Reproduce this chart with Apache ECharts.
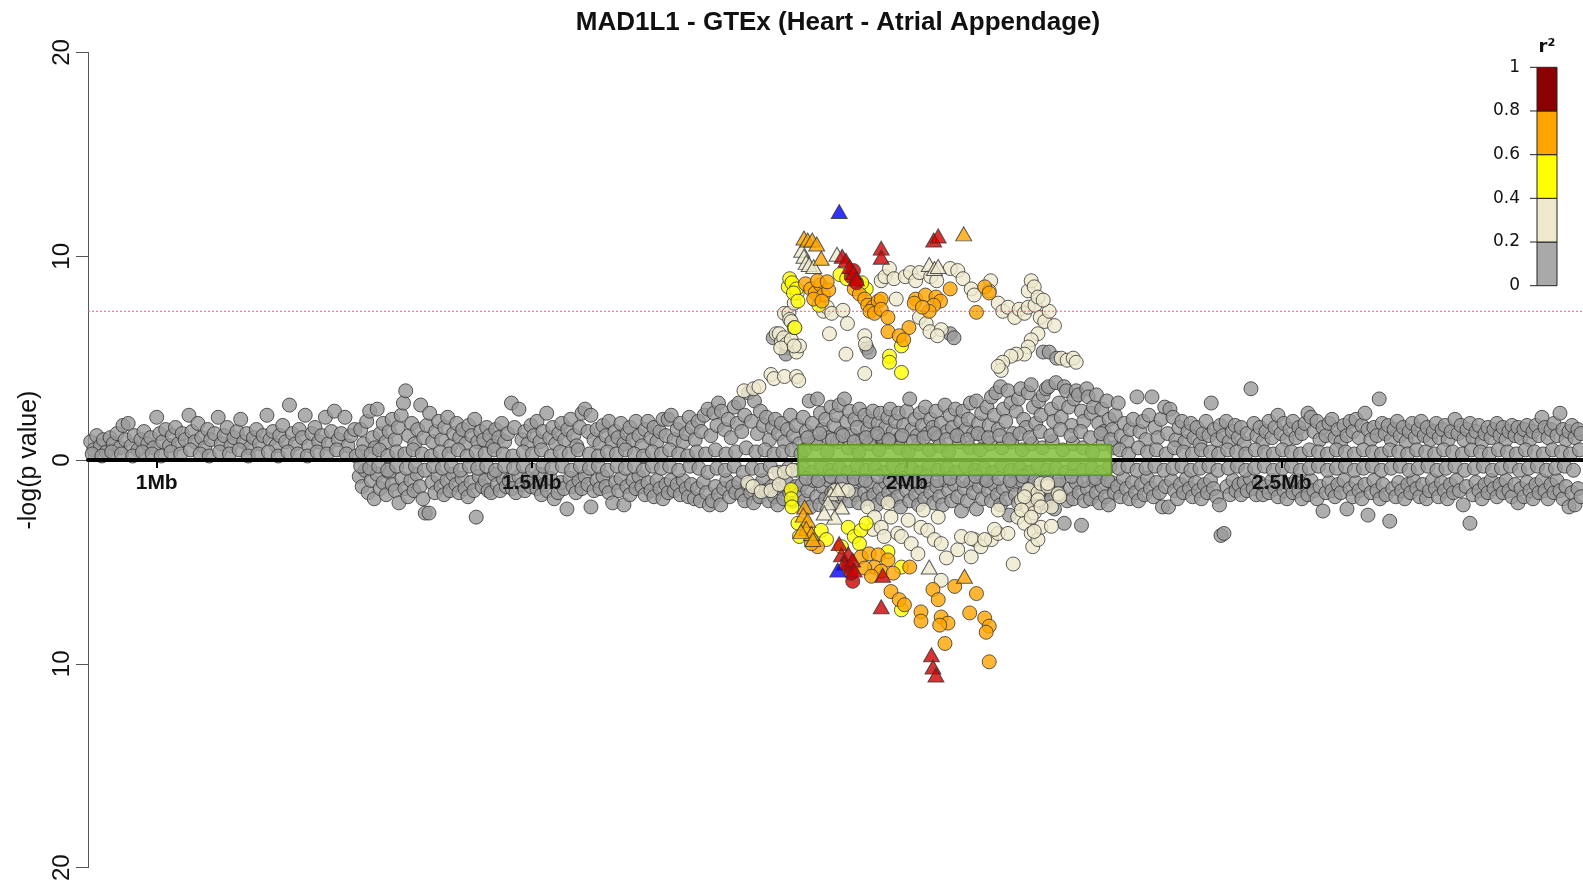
<!DOCTYPE html>
<html>
<head>
<meta charset="utf-8">
<title>MAD1L1 - GTEx (Heart - Atrial Appendage)</title>
<script src="https://cdn.jsdelivr.net/npm/echarts@6/dist/echarts.min.js"></script>
<style>
  html, body { margin: 0; padding: 0; background: #fff; }
  #chart { width: 1583px; height: 884px; }
</style>
</head>
<body>
<div id="chart"></div>
<script>
// Positions are in kb on the chromosome; values are -log10(p).
// Lower-panel values are stored as magnitudes and drawn below zero.

const chartTitle = 'MAD1L1 - GTEx (Heart - Atrial Appendage)';
const xTickKb = [1000, 1500, 2000, 2500];
const xRangeKb = [908.4, 2901.7];
const yRange = [-20, 20];
const sigThreshold = 7.3;
const geneSpans = [[1855, 2273]];
const r2Breaks = [0, 0.2, 0.4, 0.6, 0.8, 1];
const r2Colors = ['#A9A9A9', '#EEE8CD', '#FFFF00', '#FFA500', '#8B0000'];

// ---------- upper panel, r2 < 0.2 ----------
const upperGrey1 = [[912,0.9],[916,0.5],[920,1.2],[925,0.7],[929,1.0],[933,0.4],[938,1.1],[942,0.8],[947,1.3],[951,0.6],[955,1.7],[958,1.0],[962,1.8],[966,0.7],[970,1.2],[975,0.5],[979,1.0],[983,1.4],[988,0.8],[992,1.1],[996,0.6],[1000,2.1],[1004,1.3],[1008,0.9],[1012,1.5],[1017,0.7],[1021,1.2],[1025,1.6],[1029,0.8],[1034,1.3],[1038,1.0],[1043,2.2],[1047,1.4],[1051,0.9],[1055,1.8],[1060,1.1],[1064,0.6],[1068,1.5],[1072,1.0],[1077,1.3],[1082,2.1],[1086,0.8],[1090,1.2],[1094,1.6],[1099,0.7],[1103,1.1],[1107,1.4],[1112,2.0],[1116,0.9],[1120,1.3],[1124,0.6],[1129,1.1],[1133,1.5],[1137,0.8],[1142,1.2],[1147,2.2],[1151,1.0],[1155,1.4],[1159,0.7],[1164,1.2],[1168,1.7],[1172,0.9],[1177,2.7],[1181,1.3],[1185,0.8],[1190,1.5],[1194,1.1],[1198,2.2],[1203,0.7],[1207,1.3],[1211,1.6],[1216,0.9],[1220,1.2],[1225,2.1],[1229,0.8],[1233,1.4],[1237,2.4],[1242,1.0],[1246,1.3],[1251,2.1],[1255,0.7],[1259,1.2],[1264,1.5],
  [914,0.3],[927,0.2],[940,0.4],[953,0.3],[968,0.2],[981,0.4],[994,0.3],[1006,0.2],[1019,0.4],[1032,0.3],[1045,0.5],[1058,0.3],[1070,0.2],[1084,0.4],[1097,0.3],[1110,0.5],[1122,0.2],[1135,0.3],[1149,0.4],[1162,0.2],[1175,0.4],[1188,0.3],[1201,0.2],[1214,0.4],[1227,0.3],[1240,0.5],[1253,0.3],[1266,0.2]];

const upperGrey2 = [[1272,1.5],[1276,0.8],[1280,1.9],[1284,2.4],[1288,1.1],[1291,0.6],[1294,2.5],[1298,1.3],[1302,1.8],[1306,0.9],[1310,1.4],[1314,2.0],[1318,1.0],[1322,1.6],[1326,2.2],[1329,2.8],[1332,3.4],[1336,1.2],[1340,1.8],[1344,0.8],[1348,1.5],[1352,2.7],[1356,1.1],[1360,1.7],[1364,2.3],[1368,0.9],[1372,1.4],[1376,1.9],[1380,1.0],[1384,1.6],[1388,2.1],[1392,0.7],[1396,1.3],[1400,1.8],[1404,1.1],[1408,1.5],[1412,0.8],[1416,1.7],[1420,1.2],[1424,2.0],[1428,0.9],[1432,1.4],[1436,1.0],[1440,1.6],[1444,1.2],[1448,0.7],[1452,1.5],[1456,1.1],[1460,1.8],[1464,0.9],[1468,1.3],[1473,2.8],[1477,1.6],[1483,2.5],[1487,1.0],[1491,1.4],[1495,0.8],[1499,1.7],[1503,1.2],[1507,1.9],[1511,0.9],[1515,1.4],[1520,2.3],[1524,1.1],[1528,1.6],[1532,0.8],[1536,1.3],[1540,1.8],[1544,1.0],[1548,1.5],[1552,2.0],[1556,1.2],[1560,0.7],[1564,1.6],[1567,2.3],[1571,2.5],[1575,1.4],[1579,2.2],[1583,1.0],[1587,1.5],[1591,0.8],[1595,1.7],[1599,1.2],[1603,1.9],[1607,0.9],[1611,1.4],[1615,1.1],[1619,1.8],[1623,0.8],[1627,1.3],[1631,1.6],[1635,1.0],[1639,1.9],[1643,1.2],[1647,0.7],[1651,1.5],[1655,1.9],[1659,1.1],[1663,1.6],[1667,0.9],[1671,1.4],[1675,2.0],[1679,1.2],[1682,2.0],[1686,2.2],[1690,1.0],[1694,1.5],[1698,1.8],[1702,0.9],[1706,1.3],[1710,2.1],[1714,1.6],[1718,1.0],[1722,1.9],[1726,1.4],[1730,2.2],[1735,2.5],[1739,1.2],[1743,2.3],[1747,1.7],[1749,2.8],[1753,2.4],[1757,1.5],[1762,2.0],[1766,1.1],[1770,2.6],[1774,1.8],[1776,2.8],[1780,1.4],[1784,2.2],[1789,3.3],[1793,1.9],[1797,2.9],[1801,1.3],[1805,2.4],[1809,1.7],[1813,2.1],[1817,1.0],[1821,1.6],[1825,2.0],[1829,1.3],[1833,1.8],[1837,0.9],[1841,1.5],[1845,2.2],[1849,1.2],[1853,1.7],[1857,0.8],
  [1274,0.4],[1286,0.3],[1297,0.5],[1308,0.2],[1320,0.4],[1331,0.3],[1342,0.5],[1354,0.3],[1366,0.2],[1378,0.4],[1390,0.3],[1402,0.5],[1414,0.2],[1426,0.4],[1438,0.3],[1450,0.5],[1462,0.3],[1475,0.2],[1489,0.4],[1501,0.3],[1513,0.5],[1526,0.2],[1538,0.4],[1550,0.3],[1562,0.5],[1577,0.3],[1589,0.2],[1601,0.4],[1613,0.3],[1625,0.5],[1637,0.3],[1649,0.2],[1661,0.4],[1673,0.3],[1684,0.5],[1696,0.3],[1708,0.2],[1720,0.4],[1732,0.3],[1745,0.5],[1759,0.3],[1772,0.4],[1786,0.6],[1799,0.4],[1811,0.5],[1823,0.3],[1835,0.4],[1847,0.5],[1859,0.3]];

const upperGrey3 = [[1862,2.1],[1866,1.4],[1870,2.9],[1874,1.8],[1877,0.9],[1881,3.0],[1885,2.3],[1888,1.5],[1892,2.0],[1896,1.1],[1899,2.6],[1903,1.7],[1906,2.2],[1910,2.7],[1913,1.3],[1917,3.0],[1920,1.9],[1924,2.4],[1927,1.2],[1931,2.0],[1934,1.6],[1937,2.5],[1941,1.0],[1944,2.2],[1948,1.5],[1951,1.9],[1955,2.4],[1958,1.2],[1962,1.8],[1965,2.3],[1969,1.0],[1972,1.6],[1975,2.1],[1978,2.5],[1982,1.4],[1985,1.9],[1989,2.3],[1992,1.1],[1996,1.7],[2000,2.4],[2004,3.0],[2007,1.5],[2011,2.0],[2014,1.2],[2018,2.3],[2021,1.7],[2025,2.6],[2028,1.3],[2032,2.0],[2035,1.6],[2039,2.4],[2042,1.1],[2046,1.8],[2051,2.7],[2054,1.4],[2058,2.2],[2061,1.6],[2065,2.5],[2068,1.2],[2072,1.9],[2075,2.4],[2079,1.5],[2082,2.0],[2085,2.8],[2089,1.3],[2093,2.9],[2096,1.8],[2100,2.3],[2103,1.1],[2107,2.6],[2110,1.7],[2113,3.1],[2117,2.2],[2119,3.3],[2122,1.5],[2125,3.6],[2129,2.5],[2132,1.9],[2135,3.4],[2139,2.8],[2142,1.3],[2146,2.4],[2149,3.0],[2152,3.5],[2156,2.0],[2159,1.6],[2162,3.3],[2166,3.7],[2169,2.6],[2172,1.8],[2176,2.9],[2179,2.2],[2182,3.2],[2186,3.5],[2189,3.6],[2193,2.5],[2196,1.9],[2199,3.8],[2203,2.8],[2206,2.1],[2210,3.6],[2213,3.4],[2216,2.6],[2220,1.7],[2223,3.0],[2226,3.4],[2229,3.2],[2233,2.4],[2236,1.9],[2240,3.5],[2242,3.1],[2246,2.3],[2249,2.6],[2253,3.2],[2256,1.8],[2260,2.5],[2263,1.4],[2267,2.9],[2270,2.0],[2274,1.5],[2278,2.2],
  [1864,0.5],[1879,0.8],[1894,0.4],[1908,0.9],[1922,0.6],[1936,0.4],[1950,0.8],[1963,0.5],[1977,0.9],[1990,0.6],[2002,0.4],[2016,0.8],[2030,0.5],[2044,0.7],[2056,0.4],[2070,0.9],[2084,0.6],[2098,0.5],[2111,0.8],[2127,0.6],[2140,0.9],[2154,0.5],[2167,0.8],[2181,0.6],[2194,0.9],[2208,0.5],[2222,0.8],[2235,0.6],[2248,0.4],[2262,0.8],[2276,0.6],
  [1868,1.1],[1884,1.3],[1901,1.0],[1915,1.2],[1930,0.9],[1946,1.1],[1961,1.3],[1976,1.0],[1994,1.2],[2009,0.9],[2023,1.1],[2037,1.3],[2053,1.0],[2067,1.2],[2081,1.0],[2095,1.3],[2109,1.1],[2124,1.2],[2137,1.0],[2151,1.3],[2164,1.1],[2178,1.4],[2192,1.2],[2205,1.5],[2219,1.2],[2232,1.4],[2245,1.1],[2259,1.3],[2272,1.0],
  [1822,6.0],[1841,5.5],[1839,5.2],[1947,5.5],[1950,5.3],[2058,6.2],[2063,6.0],[2182,5.3],[2190,5.3],[2200,5.0]];

const upperGrey4 = [[2282,2.8],[2286,1.2],[2290,1.8],[2294,0.9],[2298,1.5],[2302,2.0],[2307,3.1],[2311,1.4],[2315,1.9],[2319,1.0],[2323,2.2],[2327,3.1],[2331,1.6],[2335,1.1],[2339,2.0],[2344,2.6],[2348,1.3],[2351,2.5],[2355,2.1],[2359,1.0],[2363,1.6],[2367,1.9],[2371,0.9],[2375,1.4],[2379,1.8],[2383,1.1],[2387,1.6],[2391,0.8],[2395,1.3],[2399,1.9],[2403,1.2],[2406,2.8],[2410,1.5],[2414,1.0],[2418,1.7],[2422,1.2],[2426,1.9],[2430,0.9],[2434,1.4],[2438,1.7],[2442,1.1],[2446,1.6],[2450,0.8],[2454,1.3],[2459,3.5],[2463,1.8],[2467,1.2],[2471,1.6],[2475,0.9],[2479,1.4],[2483,1.9],[2487,1.1],[2491,1.6],[2495,2.2],[2499,1.3],[2503,1.8],[2507,1.0],[2511,1.5],[2515,1.9],[2519,1.1],[2523,1.6],[2527,1.3],[2531,1.8],[2535,2.3],[2539,2.1],[2543,1.4],[2547,1.9],[2551,1.0],[2555,1.6],[2559,1.2],[2563,1.8],[2567,2.0],[2571,1.1],[2575,1.5],[2579,0.9],[2583,1.7],[2587,1.2],[2591,1.9],[2595,1.4],[2599,2.0],[2603,1.1],[2607,1.7],[2611,2.3],[2615,1.5],[2619,1.0],[2623,1.6],[2627,1.2],[2630,3.0],[2634,1.8],[2638,1.3],[2642,1.7],[2646,1.0],[2650,1.5],[2654,1.9],[2658,1.2],[2662,1.6],[2666,0.9],[2670,1.4],[2674,1.8],[2678,1.1],[2682,1.5],[2686,1.9],[2690,1.2],[2694,1.6],[2698,1.0],[2702,1.4],[2706,1.8],[2710,1.1],[2714,1.5],[2718,1.7],[2722,1.0],[2726,1.4],[2731,2.0],[2735,1.3],[2739,1.7],[2743,1.0],[2747,1.5],[2751,1.8],[2755,1.1],[2759,1.4],[2763,1.7],[2767,0.9],[2771,1.3],[2775,1.6],[2779,1.1],[2783,1.5],[2787,1.8],[2791,1.2],[2795,1.6],[2799,1.0],[2803,1.4],[2807,1.7],[2811,1.2],[2815,1.6],[2819,1.1],[2823,1.5],[2827,1.7],[2831,1.0],[2835,1.4],[2839,1.7],[2843,1.2],[2847,2.1],[2851,1.6],[2855,1.1],[2859,1.5],[2863,1.8],[2867,1.2],[2871,2.3],[2875,1.5],[2879,1.0],[2883,1.4],[2887,1.7],[2891,1.1],[2895,1.5],[2899,1.3],
  [2284,0.5],[2296,0.3],[2309,0.6],[2321,0.4],[2333,0.5],[2346,0.3],[2357,0.6],[2369,0.4],[2381,0.3],[2393,0.5],[2405,0.4],[2416,0.3],[2428,0.5],[2440,0.4],[2452,0.3],[2465,0.5],[2477,0.4],[2489,0.3],[2501,0.5],[2513,0.4],[2525,0.3],[2537,0.5],[2549,0.4],[2561,0.3],[2573,0.5],[2585,0.4],[2597,0.3],[2609,0.5],[2621,0.4],[2633,0.3],[2644,0.5],[2656,0.4],[2668,0.3],[2680,0.5],[2692,0.4],[2704,0.3],[2716,0.5],[2728,0.4],[2741,0.3],[2753,0.5],[2765,0.4],[2777,0.3],[2789,0.5],[2801,0.4],[2813,0.3],[2825,0.5],[2837,0.4],[2849,0.3],[2861,0.5],[2873,0.4],[2885,0.3],[2897,0.5]];

// ---------- upper panel, coloured by r2 ----------
const upperBeige = [[1783,3.4],[1796,3.5],[1803,3.6],[1819,4.2],[1823,4.0],[1837,4.1],[1853,4.1],[1856,3.9],[1826,6.2],[1830,6.2],[1833,5.8],[1836,6.0],[1837,7.2],[1840,5.7],[1843,7.2],[1844,6.9],[1846,5.9],[1846,6.8],[1850,6.5],[1850,7.7],[1853,5.3],[1854,8.2],[1857,5.6],[1832,5.5],[1850,5.6],[1889,7.3],[1894,7.5],[1897,6.2],[1900,7.2],[1915,7.35],[1919,5.2],[1921,6.7],[1944,6.1],[1945,5.7],[1944,4.25],[1966,8.8],[1971,9.0],[1977,9.4],[1983,8.9],[1986,7.9],[1998,9.0],[2005,9.2],[2012,8.8],[2017,9.2],[2032,9.0],[2040,8.8],[2058,9.4],[2017,7.0],[2026,6.7],[2031,6.3],[2046,6.4],[2041,6.1],[2068,9.3],[2075,8.9],[2086,8.4],[2090,8.1],[2112,8.8],[2110,8.3],[2122,7.7],[2128,7.3],[2135,7.5],[2144,7.0],[2150,7.4],[2157,7.2],[2162,7.5],[2171,7.6],[2178,7.0],[2184,6.8],[2190,7.3],[2197,6.6],[2162,8.3],[2166,8.8],[2170,8.5],[2175,8.0],[2182,7.85],[2175,6.2],[2166,5.9],[2162,5.55],[2157,5.2],[2146,5.2],[2139,5.1],[2128,4.8],[2126,4.4],[2122,4.6],[2206,5.0],[2214,4.9],[2222,5.0],[2226,4.8]];
const upperYellow = [[1842,8.5],[1844,8.9],[1847,8.7],[1853,8.4],[1849,8.2],[1855,7.8],[1851,6.5],[1883,7.6],[1911,9.1],[1920,8.9],[1946,8.4],[1940,8.7],[1977,5.1],[1977,4.8],[1993,4.3],[1993,5.6]];
const upperOrange = [[1865,8.65],[1872,8.4],[1878,8.2],[1885,8.6],[1889,8.1],[1896,8.35],[1876,7.9],[1887,7.8],[1881,8.8],[1894,8.75],[1930,8.4],[1937,8.15],[1944,7.9],[1948,7.6],[1955,7.5],[1962,7.8],[1966,7.9],[1951,7.3],[1957,7.2],[1966,7.4],[1975,7.0],[2003,6.5],[1975,6.3],[1990,6.1],[1996,5.9],[2012,7.9],[2025,8.1],[2039,8.0],[2045,7.8],[2036,7.6],[2058,8.4],[2010,7.7],[2030,7.3],[2021,7.5],[2093,7.25],[2104,8.5],[2110,8.2]];
const upperRed = [[1926,9.0],[1933,8.7],[1929,9.3]];
const upperBeigeTri = [[1860,10.3],[1863,10.0],[1866,9.7],[1870,9.6],[1876,9.5],[1907,10.1],[2030,9.6],[2037,9.4],[2042,9.5]];
const upperOrangeTri = [[1863,10.9],[1868,10.8],[1874,10.8],[1880,10.6],[1886,9.9],[2076,11.1]];
const upperRedTri = [[1914,10.0],[1919,9.8],[1924,9.5],[1929,9.2],[1933,8.9],[1966,10.4],[1966,9.95],[2036,10.8],[2042,11.0]];
const upperLead = [[1910,12.2]];

// ---------- lower panel, r2 < 0.2 ----------
const lowerGrey2 = [[1270,0.8],[1274,1.3],[1278,0.5],[1282,1.6],[1286,1.0],[1290,1.9],[1294,0.7],[1298,1.4],[1302,1.1],[1306,1.7],[1310,0.6],[1314,1.2],[1318,1.5],[1323,2.1],[1327,0.9],[1331,1.4],[1335,1.8],[1339,1.0],[1343,1.5],[1347,0.7],[1351,1.3],[1355,1.9],[1358,2.6],[1363,2.6],[1367,1.1],[1371,1.6],[1375,0.8],[1379,1.3],[1383,1.7],[1387,1.0],[1391,1.5],[1395,0.7],[1399,1.2],[1403,1.6],[1407,0.9],[1411,1.4],[1415,1.8],[1419,1.1],[1423,1.5],[1426,2.8],[1430,0.8],[1434,1.3],[1438,1.0],[1442,1.5],[1446,1.6],[1450,0.7],[1454,1.2],[1458,1.5],[1462,0.9],[1466,1.3],[1470,1.0],[1474,1.4],[1479,1.6],[1483,0.8],[1487,1.2],[1491,1.5],[1495,0.9],[1499,1.3],[1503,1.0],[1507,1.4],[1511,0.7],[1513,1.7],[1517,1.2],[1521,1.5],[1525,0.9],[1530,1.9],[1535,1.6],[1539,1.1],[1543,1.4],[1547,2.4],[1551,0.9],[1555,1.3],[1559,1.6],[1563,1.0],[1567,1.4],[1571,0.8],[1575,1.2],[1579,2.3],[1583,1.5],[1587,1.0],[1591,1.4],[1595,0.8],[1599,1.3],[1603,1.6],[1608,2.1],[1612,1.1],[1616,1.5],[1619,0.9],[1623,2.2],[1627,1.3],[1631,1.7],[1635,1.0],[1639,1.4],[1643,0.8],[1647,1.3],[1651,1.7],[1655,1.1],[1659,1.5],[1663,1.8],[1667,1.0],[1671,1.4],[1675,1.9],[1679,1.2],[1682,1.6],[1686,1.0],[1690,1.5],[1694,1.2],[1698,1.7],[1702,1.0],[1706,1.4],[1709,1.8],[1713,1.2],[1717,1.9],[1721,1.4],[1725,2.0],[1729,1.1],[1733,1.6],[1737,2.2],[1741,2.0],[1745,1.3],[1749,1.7],[1752,2.2],[1756,1.4],[1760,1.0],[1764,1.8],[1768,1.3],[1772,1.6],[1776,1.1],[1780,1.7],[1784,2.0],[1788,1.2],[1792,1.6],[1796,2.1],[1800,1.3],[1804,1.8],[1808,1.0],[1812,1.5],[1816,2.0],[1820,1.3],[1824,1.8],[1828,2.2],[1832,1.4],[1836,1.9],[1840,1.1],[1844,1.6],[1848,2.0],[1852,1.3],[1856,1.7],
  [1272,0.3],[1284,0.4],[1296,0.3],[1308,0.5],[1320,0.3],[1333,0.4],[1345,0.3],[1357,0.5],[1369,0.3],[1381,0.4],[1393,0.3],[1405,0.5],[1417,0.3],[1428,0.4],[1440,0.3],[1452,0.5],[1464,0.3],[1476,0.4],[1489,0.3],[1501,0.5],[1515,0.3],[1527,0.4],[1541,0.3],[1553,0.5],[1565,0.3],[1577,0.4],[1589,0.3],[1601,0.5],[1614,0.3],[1625,0.4],[1637,0.3],[1649,0.5],[1661,0.3],[1673,0.4],[1684,0.3],[1696,0.5],[1711,0.3],[1723,0.4],[1735,0.6],[1747,0.4],[1758,0.5],[1770,0.3],[1782,0.6],[1794,0.4],[1806,0.5],[1818,0.3],[1830,0.6],[1842,0.4],[1854,0.5]];

const lowerGrey3 = [[1860,1.2],[1864,2.0],[1868,1.5],[1872,2.3],[1876,1.0],[1880,1.8],[1884,2.2],[1888,1.3],[1892,1.9],[1896,1.0],[1900,1.6],[1904,2.1],[1908,1.3],[1912,1.8],[1916,1.0],[1920,1.5],[1924,2.0],[1928,1.2],[1932,1.7],[1936,2.1],[1940,1.0],[1944,1.6],[1948,1.9],[1952,1.2],[1956,1.7],[1960,2.2],[1964,1.4],[1968,1.9],[1972,1.1],[1976,1.6],[1980,2.0],[1984,1.3],[1988,1.8],[1992,2.3],[1996,1.0],[2000,1.5],[2004,2.0],[2008,1.2],[2012,1.7],[2016,2.2],[2020,1.4],[2024,1.9],[2028,1.1],[2032,1.6],[2036,2.1],[2040,1.3],[2044,1.8],[2048,2.2],[2052,1.0],[2056,1.5],[2060,2.0],[2064,1.2],[2068,1.8],[2073,2.5],[2077,1.4],[2081,2.0],[2085,1.1],[2089,1.6],[2093,2.4],[2097,1.3],[2101,1.9],[2105,1.0],[2109,1.5],[2113,2.0],[2117,1.2],[2121,1.7],[2125,2.2],[2129,1.4],[2133,1.9],[2137,2.7],[2141,1.2],[2145,1.7],[2149,2.1],[2153,1.0],[2157,1.6],[2161,2.0],[2165,1.3],[2169,1.8],[2173,2.3],[2177,1.1],[2181,1.7],[2185,2.1],[2189,1.4],[2193,1.9],[2197,2.4],[2201,1.2],[2205,1.7],[2210,3.1],[2214,2.0],[2218,1.4],[2222,1.9],[2226,1.1],[2230,1.6],[2233,3.2],[2237,2.0],[2241,1.4],[2245,1.9],[2249,1.0],[2253,1.6],[2257,2.1],[2261,1.3],[2265,1.8],[2269,2.2],[2273,1.1],[2277,1.6],
  [1862,0.4],[1874,0.6],[1886,0.3],[1898,0.5],[1910,0.4],[1922,0.6],[1934,0.3],[1946,0.5],[1958,0.4],[1970,0.6],[1982,0.3],[1994,0.5],[2006,0.4],[2018,0.6],[2030,0.3],[2042,0.5],[2054,0.4],[2066,0.6],[2079,0.3],[2091,0.5],[2103,0.4],[2115,0.6],[2127,0.3],[2139,0.5],[2151,0.4],[2163,0.6],[2175,0.3],[2187,0.5],[2199,0.4],[2212,0.6],[2224,0.3],[2235,0.5],[2247,0.4],[2259,0.6],[2271,0.3],
  [1866,0.9],[1882,1.0],[1899,0.8],[1914,1.0],[1930,0.9],[1945,1.0],[1962,0.8],[1978,1.0],[1995,0.9],[2011,1.0],[2026,0.8],[2041,1.0],[2058,0.9],[2075,1.0],[2092,0.8],[2107,1.0],[2123,0.9],[2138,1.0],[2155,0.8],[2171,1.0],[2186,0.9],[2203,1.0],[2220,0.8],[2236,1.0],[2252,0.9],[2268,1.0]];

const lowerGrey4 = [[2281,1.3],[2285,1.8],[2289,0.9],[2293,1.4],[2297,1.9],[2301,1.1],[2305,1.6],[2309,2.0],[2313,1.2],[2317,1.7],[2321,0.9],[2325,1.4],[2329,1.8],[2333,1.1],[2337,1.6],[2341,2.3],[2345,1.3],[2349,2.3],[2353,1.0],[2357,1.5],[2361,1.9],[2365,1.2],[2369,1.6],[2373,0.9],[2377,1.4],[2381,1.8],[2385,1.1],[2389,1.5],[2393,1.9],[2397,1.2],[2401,1.6],[2405,1.0],[2409,1.4],[2413,1.8],[2417,2.2],[2419,3.7],[2423,3.6],[2427,1.3],[2431,1.7],[2435,1.0],[2439,1.5],[2443,1.2],[2446,1.7],[2450,1.1],[2454,1.5],[2458,0.9],[2462,1.4],[2466,1.7],[2470,1.1],[2475,1.7],[2479,1.3],[2483,1.6],[2487,1.0],[2491,1.4],[2495,1.8],[2499,1.1],[2503,1.5],[2507,1.9],[2511,1.2],[2515,1.6],[2519,1.0],[2523,1.5],[2527,1.9],[2531,1.2],[2535,1.7],[2539,1.0],[2543,1.5],[2547,1.9],[2551,1.3],[2555,2.5],[2559,1.6],[2563,1.1],[2567,1.5],[2571,1.8],[2575,1.2],[2579,1.6],[2583,1.0],[2587,2.4],[2591,1.4],[2595,1.8],[2599,1.1],[2603,1.5],[2607,1.9],[2611,1.2],[2615,2.7],[2619,1.6],[2623,1.0],[2627,1.5],[2631,1.9],[2635,1.2],[2639,1.7],[2644,3.0],[2648,1.4],[2652,1.8],[2656,1.1],[2660,1.5],[2664,1.9],[2668,1.2],[2672,1.6],[2676,1.0],[2680,1.4],[2684,1.8],[2688,1.2],[2693,1.9],[2697,1.5],[2701,1.0],[2705,1.4],[2709,1.8],[2713,1.1],[2717,1.5],[2721,1.9],[2725,1.2],[2729,1.6],[2733,1.0],[2737,1.5],[2742,2.2],[2746,1.3],[2751,3.1],[2755,1.7],[2759,1.1],[2763,1.5],[2767,1.9],[2771,1.2],[2775,1.6],[2779,1.0],[2783,1.4],[2787,1.8],[2791,1.2],[2795,1.6],[2799,1.0],[2803,1.5],[2807,1.8],[2811,1.2],[2815,2.1],[2819,1.4],[2823,1.8],[2827,1.1],[2831,1.5],[2835,1.9],[2839,1.2],[2843,1.6],[2847,1.0],[2851,1.5],[2855,1.9],[2859,1.2],[2863,1.6],[2867,1.0],[2871,1.5],[2875,1.9],[2879,1.3],[2883,2.3],[2887,1.6],[2891,2.2],[2895,1.4],[2899,1.8],
  [2283,0.4],[2295,0.3],[2307,0.5],[2319,0.4],[2331,0.3],[2343,0.5],[2355,0.4],[2367,0.3],[2379,0.5],[2391,0.4],[2403,0.3],[2415,0.5],[2429,0.4],[2441,0.3],[2452,0.5],[2464,0.4],[2477,0.3],[2489,0.5],[2501,0.4],[2513,0.3],[2525,0.5],[2537,0.4],[2549,0.3],[2561,0.5],[2573,0.4],[2585,0.3],[2597,0.5],[2609,0.4],[2621,0.3],[2633,0.5],[2646,0.4],[2658,0.3],[2670,0.5],[2682,0.4],[2695,0.3],[2707,0.5],[2719,0.4],[2731,0.3],[2744,0.5],[2757,0.4],[2769,0.3],[2781,0.5],[2793,0.4],[2805,0.3],[2817,0.5],[2829,0.4],[2841,0.3],[2853,0.5],[2865,0.4],[2877,0.3],[2889,0.5]];

// ---------- lower panel, coloured by r2 ----------
const lowerBeige = [[1788,1.1],[1795,1.3],[1806,1.55],[1819,1.5],[1824,0.65],[1830,1.2],[1837,0.6],[1848,0.5],[1904,1.5],[1914,1.45],[1922,1.5],[1948,2.3],[1955,3.4],[1957,2.8],[1966,3.3],[1970,3.75],[1975,2.1],[1979,2.8],[1988,3.6],[1993,3.75],[2002,2.95],[2006,4.1],[2015,4.6],[2019,3.3],[2022,2.45],[2028,3.45],[2037,3.9],[2042,2.8],[2046,4.1],[2053,4.8],[2046,5.9],[2068,4.4],[2073,3.75],[2086,4.75],[2090,3.9],[2099,4.25],[2113,3.9],[2122,3.6],[2142,5.1],[2148,2.8],[2153,1.95],[2157,3.1],[2162,2.3],[2162,1.45],[2166,3.6],[2168,4.25],[2170,2.6],[2175,3.9],[2175,1.6],[2179,3.3],[2179,1.15],[2188,1.3],[2193,2.3],[2202,1.65],[2188,1.15],[2157,1.8],[2175,1.95],[2153,2.45],[2166,2.8],[2179,2.3],[2170,3.5],[2193,3.25],[2204,1.8],[2122,2.45],[2117,3.4],[2135,3.6],[2086,3.85],[2104,3.9]];
const lowerYellow = [[1846,1.45],[1846,1.9],[1847,2.3],[1855,3.1],[1868,3.6],[1886,3.45],[1893,3.9],[1857,3.75],[1922,3.3],[1930,3.75],[1939,3.45],[1946,3.1],[1937,4.1],[1913,4.25],[1975,4.5],[1993,5.25],[1993,7.35]];
const lowerOrange = [[1881,4.25],[1873,4.1],[1939,4.75],[1950,4.6],[1962,4.65],[1975,4.9],[1957,5.25],[1944,5.3],[1966,5.45],[1982,5.55],[1953,5.7],[2004,5.25],[1979,6.45],[1990,6.85],[1997,7.1],[2019,7.45],[2019,7.9],[2035,6.35],[2042,6.85],[2046,7.7],[2055,8.0],[2044,8.1],[2051,9.0],[2064,6.2],[2093,6.55],[2084,7.5],[2104,7.75],[2110,8.15],[2106,8.45],[2110,9.9]];
const lowerRed = [[1928,5.95],[1922,5.25],[1926,5.55]];
const lowerBeigeTri = [[1899,1.65],[1908,1.45],[1895,2.1],[1913,2.3],[1904,2.8],[1890,2.6],[2030,5.25]];
const lowerOrangeTri = [[1864,2.3],[1862,2.7],[1868,2.95],[1866,3.35],[1873,3.6],[1875,3.9],[1859,3.5],[2077,5.7]];
const lowerRedTri = [[1910,4.1],[1913,4.65],[1922,4.6],[1917,5.05],[1928,4.9],[1930,5.4],[1968,5.65],[1966,7.2],[2033,9.55],[2035,10.15],[2039,10.55]];
const lowerLead = [[1908,5.4]];

// ---------- drawing ----------
const FONT = "'Liberation Sans', Arial, Helvetica, sans-serif";
const leadColor = '#0000FF';
const pointRed = '#CD0000';

function points(data, fill, shape, lower) {
  return {
    type: 'scatter',
    data: lower ? data.map(d => [d[0], -d[1]]) : data,
    symbol: shape,
    symbolSize: shape === 'triangle' ? [16, 14] : 14,
    itemStyle: { color: fill, borderColor: '#333', borderWidth: 1 },
    z: 2,
    silent: true
  };
}

const series = [
  points([].concat(upperGrey1, upperGrey2, upperGrey3, upperGrey4), '#9A9A9A', 'circle', false),
  points([].concat(lowerGrey2, lowerGrey3, lowerGrey4), '#9A9A9A', 'circle', true),
  points(upperBeige, r2Colors[1], 'circle', false),
  points(lowerBeige, r2Colors[1], 'circle', true),
  points(upperBeigeTri, r2Colors[1], 'triangle', false),
  points(lowerBeigeTri, r2Colors[1], 'triangle', true),
  points(upperYellow, r2Colors[2], 'circle', false),
  points(lowerYellow, r2Colors[2], 'circle', true),
  points(upperOrange, r2Colors[3], 'circle', false),
  points(lowerOrange, r2Colors[3], 'circle', true),
  points(upperOrangeTri, r2Colors[3], 'triangle', false),
  points(lowerOrangeTri, r2Colors[3], 'triangle', true),
  points(upperRed, pointRed, 'circle', false),
  points(lowerRed, pointRed, 'circle', true),
  points(upperRedTri, pointRed, 'triangle', false),
  points(lowerRedTri, pointRed, 'triangle', true),
  points(upperLead, leadColor, 'triangle', false),
  points(lowerLead, leadColor, 'triangle', true),
  {
    // genome-wide significance line
    type: 'custom',
    data: [[xRangeKb[0], sigThreshold]],
    z: 11,
    silent: true,
    renderItem: function (params, api) {
      const y = api.coord([api.value(0), api.value(1)])[1];
      const cs = params.coordSys;
      return {
        type: 'line',
        shape: { x1: cs.x, y1: y, x2: cs.x + cs.width, y2: y },
        style: { stroke: '#E8607C', lineWidth: 1, lineDash: [2, 2] }
      };
    }
  },
  {
    // position labels sitting on the zero line
    type: 'custom',
    data: xTickKb.map(v => [v, 0]),
    z: 11,
    silent: true,
    clip: false,
    renderItem: function (params, api) {
      const p = api.coord([api.value(0), api.value(1)]);
      return {
        type: 'text',
        x: p[0],
        y: p[1] + 13,
        style: {
          text: (api.value(0) / 1000) + 'Mb',
          align: 'center', verticalAlign: 'top',
          font: 'bold 21px ' + FONT, fill: '#111'
        }
      };
    }
  },
  {
    // gene body
    type: 'custom',
    data: geneSpans,
    z: 12,
    silent: true,
    renderItem: function (params, api) {
      const half = 0.75;
      const p1 = api.coord([api.value(0), half]);
      const p2 = api.coord([api.value(1), -half]);
      return {
        type: 'rect',
        shape: { x: p1[0], y: p1[1], width: p2[0] - p1[0], height: p2[1] - p1[1] },
        style: { fill: 'rgba(132,196,62,0.86)', stroke: '#5C9428', lineWidth: 1.5 }
      };
    }
  }
];

// r2 colour key
const keyX = 1537, keyW = 20, keyTop = 67.3, keyBottom = 285.7;
const keyGraphics = [];
const segH = (keyBottom - keyTop) / r2Colors.length;
r2Colors.forEach((c, i) => {
  keyGraphics.push({
    type: 'rect', silent: true,
    shape: { x: keyX, y: keyBottom - (i + 1) * segH, width: keyW, height: segH },
    style: { fill: c, stroke: '#222', lineWidth: 1 }
  });
});
r2Breaks.forEach((b, i) => {
  const y = keyBottom - i * segH;
  keyGraphics.push({
    type: 'line', silent: true,
    shape: { x1: keyX - 7, y1: y, x2: keyX, y2: y },
    style: { stroke: '#222', lineWidth: 1 }
  });
  keyGraphics.push({
    type: 'text', silent: true,
    style: { text: String(b), x: keyX - 17, y: y, align: 'right', verticalAlign: 'middle',
             font: "17px 'DejaVu Sans', sans-serif", fill: '#111' }
  });
});
keyGraphics.push({
  type: 'text', silent: true,
  style: { text: 'r²', x: keyX + keyW / 2, y: 47, align: 'center', verticalAlign: 'middle',
           font: "bold 18px 'DejaVu Sans', sans-serif", fill: '#111' }
});
keyGraphics.push({
  type: 'text', silent: true,
  style: { text: chartTitle, x: 838, y: 23, align: 'center', verticalAlign: 'middle',
           font: 'bold 26px ' + FONT, fill: '#111' }
});

const chart = echarts.init(document.getElementById('chart'), null, { renderer: 'canvas' });
chart.setOption({
  animation: false,
  backgroundColor: '#ffffff',
  grid: { left: 88, right: 0, top: 52.5, bottom: 16.3, containLabel: false },
  xAxis: {
    type: 'value',
    min: xRangeKb[0],
    max: xRangeKb[1],
    z: 10,
    axisLine: { show: true, onZero: true, lineStyle: { color: '#000', width: 4 } },
    axisTick: { show: true, customValues: xTickKb, length: 8, lineStyle: { color: '#000', width: 2 } },
    axisLabel: { show: false },
    splitLine: { show: false }
  },
  yAxis: {
    type: 'value',
    min: yRange[0],
    max: yRange[1],
    interval: 10,
    axisLine: { show: true, onZero: false, lineStyle: { color: '#555', width: 1 } },
    axisTick: { show: true, length: 12, lineStyle: { color: '#555', width: 1 } },
    axisLabel: {
      rotate: 90, margin: 14,
      formatter: v => String(Math.abs(v)),
      fontSize: 24, color: '#111', fontFamily: FONT
    },
    splitLine: { show: false },
    name: '-log(p value)',
    nameLocation: 'middle',
    nameRotate: 90,
    nameGap: 45,
    nameTextStyle: { fontSize: 25, color: '#111', fontFamily: FONT }
  },
  graphic: keyGraphics,
  series: series
});
</script>
</body>
</html>
